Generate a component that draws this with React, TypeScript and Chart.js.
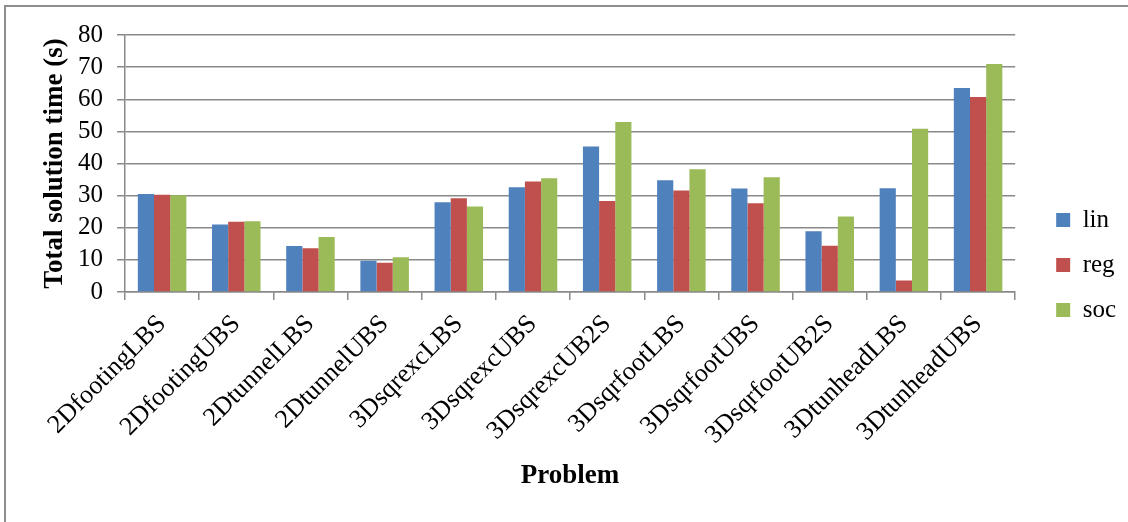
import { useEffect, useRef } from 'react';
import { Chart, registerables } from 'chart.js';

Chart.register(...registerables);

// Benchmark problems on the category axis
const problems = [
  '2DfootingLBS',
  '2DfootingUBS',
  '2DtunnelLBS',
  '2DtunnelUBS',
  '3DsqrexcLBS',
  '3DsqrexcUBS',
  '3DsqrexcUB2S',
  '3DsqrfootLBS',
  '3DsqrfootUBS',
  '3DsqrfootUB2S',
  '3DtunheadLBS',
  '3DtunheadUBS',
];

// Total solution time (s) per formulation
const linTimes = [30.5, 21.0, 14.3, 9.7, 27.9, 32.6, 45.3, 34.8, 32.2, 18.9, 32.3, 63.5];
const regTimes = [30.3, 21.9, 13.6, 9.1, 29.2, 34.4, 28.3, 31.6, 27.6, 14.4, 3.6, 60.7];
const socTimes = [30.1, 22.0, 17.1, 10.8, 26.6, 35.4, 52.9, 38.2, 35.7, 23.5, 50.8, 71.0];

const seriesNames = ['lin', 'reg', 'soc'];
const seriesColors = ['#4F81BD', '#C0504D', '#9BBB59'];

const yMin = 0;
const yMax = 80;
const yStep = 10;

const serif = "'Times New Roman', 'Liberation Serif', serif";
const gridGray = '#898989';

// Moves the legend block after layout so it sits apart from the plot area
const legendNudge = {
  id: 'legendNudge',
  afterLayout(chart: any, _args: any, opts: any) {
    const lg = chart.legend;
    if (!lg) return;
    const dx = opts?.dx ?? 0;
    const dy = opts?.dy ?? 0;
    lg.left += dx;
    lg.right += dx;
    lg.top += dy;
    lg.bottom += dy;
  },
};

export default function App() {
  const canvasRef = useRef<HTMLCanvasElement | null>(null);

  useEffect(() => {
    const canvas = canvasRef.current;
    if (!canvas) return;

    const series = [linTimes, regTimes, socTimes];

    const chart = new Chart(canvas, {
      type: 'bar',
      data: {
        labels: problems,
        datasets: series.map((values, i) => ({
          label: seriesNames[i],
          data: values,
          backgroundColor: seriesColors[i],
          borderWidth: 0,
          categoryPercentage: 0.654,
          barPercentage: 1,
        })),
      },
      plugins: [legendNudge],
      options: {
        animation: false,
        responsive: true,
        maintainAspectRatio: false,
        events: [],
        layout: {
          padding: { left: 30, top: 35, right: 23, bottom: 0 },
        },
        plugins: {
          tooltip: { enabled: false },
          legend: {
            position: 'right',
            align: 'center',
            labels: {
              boxWidth: 14,
              boxHeight: 14,
              padding: 20,
              color: '#000',
              font: { family: serif, size: 25 },
            },
          },
          legendNudge: { dx: 21, dy: -13.5 },
        } as any,
        scales: {
          x: {
            offset: true,
            afterFit: (scale: any) => {
              scale.height = 230;
            },
            grid: {
              offset: true,
              drawOnChartArea: false,
              drawTicks: true,
              tickLength: 8,
              color: gridGray,
              lineWidth: 1.5,
            },
            border: { display: true, color: gridGray, width: 1.5 },
            ticks: {
              color: '#000',
              font: { family: serif, size: 26 },
              minRotation: 45,
              maxRotation: 45,
              autoSkip: false,
              padding: 9,
              labelOffset: 0,
            },
            title: {
              display: true,
              text: 'Problem',
              color: '#000',
              font: { family: serif, size: 27, weight: 'bold' },
              padding: { top: 0, bottom: 30 },
            },
          },
          y: {
            min: yMin,
            max: yMax,
            afterFit: (scale: any) => {
              scale.width = 95;
            },
            grid: {
              drawTicks: true,
              tickLength: 8,
              color: gridGray,
              lineWidth: 1.5,
            },
            border: { display: true, color: gridGray, width: 1.5 },
            ticks: {
              stepSize: yStep,
              autoSkip: false,
              color: '#000',
              font: { family: serif, size: 25, lineHeight: 1 },
              padding: 14,
            },
            title: {
              display: true,
              text: 'Total solution time (s)',
              color: '#000',
              font: { family: serif, size: 27, weight: 'bold' },
              padding: { top: 9, bottom: 0 },
            },
          },
        },
      },
    });

    return () => {
      chart.destroy();
    };
  }, []);

  return (
    <div
      style={{
        position: 'fixed',
        left: 0,
        top: 0,
        width: 1128,
        height: 522,
        overflow: 'hidden',
        background: '#ffffff',
      }}
    >
      <div
        style={{
          position: 'absolute',
          left: 4,
          top: 5,
          width: 1200,
          height: 600,
          border: '2px solid #8e8e8e',
          boxSizing: 'border-box',
        }}
      />
      <div style={{ position: 'absolute', left: 0, top: 0, width: 1128, height: 522 }}>
        <canvas ref={canvasRef} />
      </div>
    </div>
  );
}
